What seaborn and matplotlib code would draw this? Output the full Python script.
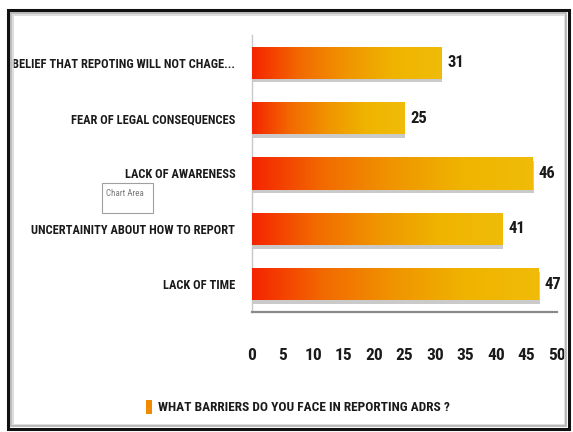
import numpy as np
import pandas as pd
import matplotlib
matplotlib.use("Agg")
import matplotlib.pyplot as plt
import matplotlib.patheffects as pe
from matplotlib.patches import Rectangle, Patch
from matplotlib.colors import LinearSegmentedColormap
from matplotlib import font_manager
import seaborn as sns

categories = [
    "BELIEF THAT REPOTING WILL NOT CHAGE...",
    "FEAR OF LEGAL CONSEQUENCES",
    "LACK OF AWARENESS",
    "UNCERTAINITY ABOUT HOW TO REPORT",
    "LACK OF TIME",
]
counts = [31, 25, 46, 41, 47]
x_ticks = [0, 5, 10, 15, 20, 25, 30, 35, 40, 45, 50]
series_name = "WHAT BARRIERS DO YOU FACE IN REPORTING ADRS ?"

df = pd.DataFrame({"barrier": categories, "count": counts})

sns.set_theme(style="white")

# pick the narrowest installed sans family
installed = {f.name for f in font_manager.fontManager.ttflist}
family = "Liberation Sans"
for cand in ["Liberation Sans Narrow", "DejaVu Sans Condensed", "Roboto Condensed",
             "Open Sans Condensed", "Liberation Sans"]:
    if cand in installed:
        family = cand
        break
plt.rcParams["font.family"] = [family, "DejaVu Sans"]

W, H = 573, 432
fig = plt.figure(figsize=(W / 100, H / 100), dpi=100)
fig.patch.set_facecolor("white")

ax = fig.add_axes([252 / W, (H - 312) / H, (557 - 252) / W, (312 - 35) / H])

sns.barplot(data=df, x="count", y="barrier", orient="h", ax=ax,
            color="#f07800", width=0.58, saturation=1)

grad = LinearSegmentedColormap.from_list(
    "redgold", ["#f52400", "#f26a00", "#f09500", "#efb400", "#f0bc08"])
shadow = [pe.SimplePatchShadow(offset=(0.7, -2.6), shadow_rgbFace="#8a8a8a", alpha=0.45),
          pe.Normal()]
for bar in ax.patches:
    bar.set_edgecolor("none")
    bar.set_path_effects(shadow)
    x0, y0 = bar.get_x(), bar.get_y()
    w, h = bar.get_width(), bar.get_height()
    img = ax.imshow(np.linspace(0, 1, 256).reshape(1, -1), cmap=grad, aspect="auto",
                    extent=[x0, x0 + w, y0 + h, y0], interpolation="bicubic", zorder=3)
    img.set_clip_path(bar)

ax.set_xlim(0, 50)
ax.set_ylim(4.5, -0.5)
ax.set_xticks(x_ticks)
ax.set_xlabel("")
ax.set_ylabel("")

for i, v in enumerate(counts):
    ax.text(v + 1.0, i, str(v), va="center", ha="left", fontsize=12,
            color="#1a1a1a", fontweight="bold", zorder=4)

ax.tick_params(axis="x", length=0, pad=26, labelsize=12.5, labelcolor="#1a1a1a")
ax.tick_params(axis="y", length=0, pad=12, labelsize=11.5, labelcolor="#1a1a1a")
for lab in ax.get_xticklabels() + ax.get_yticklabels():
    lab.set_fontweight("bold")

# size the category labels so the longest one spans the left margin
renderer = fig.canvas.get_renderer()
widest = max(l.get_window_extent(renderer).width for l in ax.get_yticklabels())
ysize = 11.5 * 222 / widest
ax.tick_params(axis="y", labelsize=ysize)

for s in ["top", "right"]:
    ax.spines[s].set_visible(False)
ax.spines["left"].set_color("#c8c8c8")
ax.spines["left"].set_linewidth(1.0)
ax.spines["bottom"].set_color("#8a8a8a")
ax.spines["bottom"].set_linewidth(1.6)
ax.set_facecolor("none")

# legend below the axis
handle = Patch(facecolor="#f08a00", edgecolor="none")
leg = fig.legend([handle], [series_name], loc="center",
                 bbox_to_anchor=(298 / W, (H - 407) / H), frameon=False,
                 handlelength=0.4, handleheight=1.3, handletextpad=0.45,
                 prop={"size": 9.6, "weight": "bold"})
for t in leg.get_texts():
    t.set_color("#1a1a1a")

# "Chart Area" hover tip
fig.add_artist(Rectangle((102 / W, (H - 213) / H), 51 / W, 30 / H,
                         transform=fig.transFigure, facecolor="white",
                         edgecolor="#a0a0a0", linewidth=0.8, zorder=5))
fig.text(106 / W, (H - 193) / H, "Chart Area", ha="left", va="center",
         fontsize=6.5, color="#7a7a7a", zorder=6)

# outer frame with a soft inner bevel
for k, (col, lw) in enumerate([("#d8d8d8", 1.2), ("#b0b0b0", 1.2)]):
    off = 3 + 1.5 * (1 - k)
    fig.add_artist(Rectangle(((8 + off) / W, (H - 429 + off) / H),
                             (561 - 2 * off) / W, (419 - 2 * off) / H,
                             transform=fig.transFigure, fill=False,
                             edgecolor=col, linewidth=lw))
fig.add_artist(Rectangle((8 / W, (H - 429) / H), 561 / W, 419 / H,
                         transform=fig.transFigure, fill=False,
                         edgecolor="#111111", linewidth=2.2))

fig.savefig("out.png", dpi=100, facecolor="white")
